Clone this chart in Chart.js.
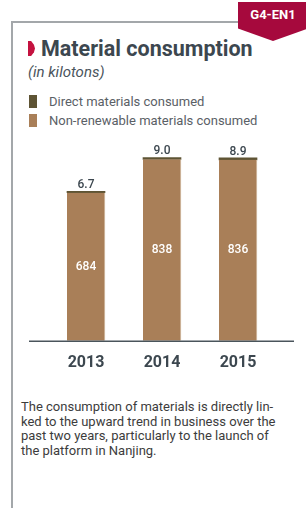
<!DOCTYPE html>
<html>
<head>
<meta charset="utf-8">
<script src="https://cdn.jsdelivr.net/npm/chart.js@4"></script>
<style>
  html, body { margin: 0; padding: 0; background: #fff; }
  body { width: 306px; height: 508px; position: relative; overflow: hidden; font-family: Roboto, 'Noto Sans', sans-serif; }
  .frame-top { position: absolute; left: 11px; top: 21px; width: 230px; height: 2px; background: #a3a7aa; }
  .frame-left { position: absolute; left: 11px; top: 21px; width: 2px; height: 487px; background: #a3a7aa; }
  .badge { position: absolute; left: 238px; top: 2px; width: 70px; height: 39px; background: #a6093d;
           clip-path: polygon(0 0, 100% 0, 100% 68%, 50% 100%, 0 68%); }
  .badge span { position: absolute; left: 0; right: 0; top: 5px; text-align: center; color: #fff; font-weight: 700; font-size: 13px; }
  .marker { position: absolute; left: 28px; top: 41px; width: 7px; height: 15px; background: #c4123f;
            clip-path: polygon(0 0, 45% 0, 85% 25%, 100% 50%, 85% 75%, 45% 100%, 0 100%); }
  h1 { position: absolute; left: 41px; top: 36px; margin: 0; font-size: 21.5px; font-weight: 700; color: #3c474f; white-space: nowrap; }
  .sub { position: absolute; left: 28px; top: 63px; font-size: 15px; font-style: italic; color: #4a545c; }
  .legend { position: absolute; left: 29px; font-size: 13px; color: #5a6066; line-height: 14px; }
  .legend i { position: absolute; left: 0; top: 0; width: 8px; height: 13px; }
  .legend span { position: absolute; left: 20px; top: 0; white-space: nowrap; }
  #wrap { position: absolute; left: 0; top: 136px; width: 306px; height: 250px; }
  p.note { position: absolute; left: 21px; top: 400px; margin: 0; font-size: 13px; line-height: 14.5px; color: #3c3c3c; white-space: nowrap; }
</style>
</head>
<body>
<div class="frame-top"></div>
<div class="frame-left"></div>
<div class="badge"><span>G4-EN1</span></div>
<div class="marker"></div>
<h1>Material consumption</h1>
<div class="sub">(in kilotons)</div>
<div class="legend" style="top:95px"><i style="background:#5e5434"></i><span>Direct materials consumed</span></div>
<div class="legend" style="top:114px"><i style="background:#a97f58"></i><span>Non-renewable materials consumed</span></div>
<div id="wrap"><canvas id="c"></canvas></div>
<p class="note">The consumption of materials is directly lin-<br>ked to the upward trend in business over the<br>past two years, particularly to the launch of<br>the platform in Nanjing.</p>

<script>
const years = ['2013', '2014', '2015'];
const nonRenewable = [684, 838, 836];
const direct = [6.7, 9.0, 8.9];
const directLabels = ['6.7', '9.0', '8.9'];

const DARK = '#5e5434';
const BROWN = '#a97f58';
const TEXT = '#3c474f';

// baseline runs wider than the bars, drawn by hand from the x scale
const baseline = {
  id: 'baseline',
  afterDatasetsDraw(chart) {
    const { ctx, chartArea } = chart;
    ctx.save();
    ctx.strokeStyle = '#4a555c';
    ctx.lineWidth = 1.5;
    ctx.beginPath();
    ctx.moveTo(chartArea.left - 19, chartArea.bottom + 0.5);
    ctx.lineTo(chartArea.right + 18, chartArea.bottom + 0.5);
    ctx.stroke();
    ctx.restore();
  },
};

const valueLabels = {
  id: 'valueLabels',
  afterDatasetsDraw(chart) {
    const { ctx } = chart;
    const base = chart.getDatasetMeta(0).data;
    const top = chart.getDatasetMeta(1).data;
    ctx.save();
    ctx.textAlign = 'center';
    ctx.font = "500 12px Roboto, sans-serif";
    base.forEach((bar, i) => {
      ctx.fillStyle = '#fff';
      ctx.textBaseline = 'middle';
      ctx.fillText(String(nonRenewable[i]), bar.x, (bar.y + bar.base) / 2);
      ctx.fillStyle = TEXT;
      ctx.textBaseline = 'alphabetic';
      ctx.fillText(directLabels[i], top[i].x, top[i].y - 3);
    });
    ctx.restore();
  },
};

new Chart(document.getElementById('c'), {
  type: 'bar',
  data: {
    labels: years,
    datasets: [
      { label: 'Non-renewable materials consumed', data: nonRenewable, backgroundColor: BROWN,
        borderColor: '#dccab6', borderWidth: { right: 1, left: 0, top: 0, bottom: 0 }, borderSkipped: false },
      { label: 'Direct materials consumed', data: direct, backgroundColor: DARK, borderWidth: 0 },
    ],
  },
  options: {
    responsive: true,
    maintainAspectRatio: false,
    animation: false,
    layout: { padding: { left: 48, right: 30, top: 10, bottom: 0 } },
    datasets: { bar: { barThickness: 38, categoryPercentage: 1 } },
    plugins: { legend: { display: false }, tooltip: { enabled: false } },
    scales: {
      x: {
        stacked: true,
        grid: { display: false, drawTicks: false },
        border: { display: false },
        ticks: { color: TEXT, padding: 13, font: { family: 'Roboto', size: 16, weight: 'bold' } },
      },
      y: { stacked: true, display: false, min: 0, max: 900 },
    },
  },
  plugins: [baseline, valueLabels],
});
</script>
</body>
</html>
